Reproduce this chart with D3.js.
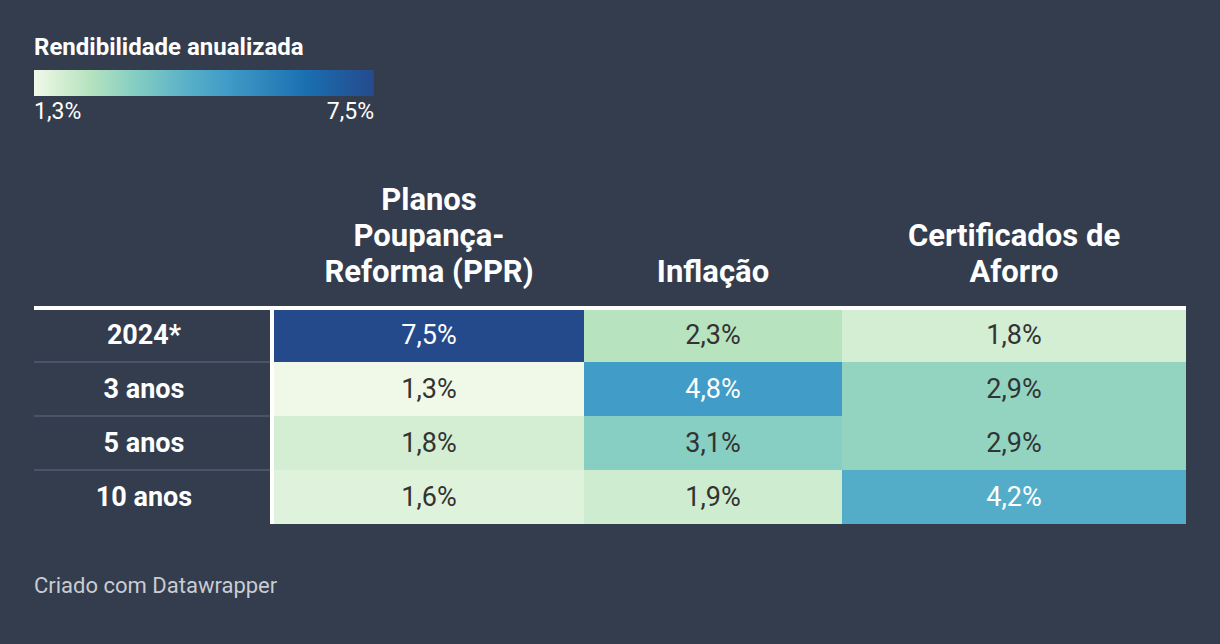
<!DOCTYPE html>
<html>
<head>
<meta charset="utf-8">
<script src="https://cdn.jsdelivr.net/npm/d3@7"></script>
<style>
  html, body { margin: 0; padding: 0; background: #333d4e; }
  svg { display: block; font-family: Roboto, "Noto Sans", sans-serif; }
</style>
</head>
<body>
<svg id="chart" width="1220" height="644"></svg>
<script>
// ---- data ----
const rowLabels = ["2024*", "3 anos", "5 anos", "10 anos"];
const columnHeaders = [
  ["Planos", "Poupança-", "Reforma (PPR)"],
  ["Inflação"],
  ["Certificados de", "Aforro"]
];
const pprValues = [7.5, 1.3, 1.8, 1.6];
const inflacaoValues = [2.3, 4.8, 3.1, 1.9];
const certificadosValues = [1.8, 2.9, 2.9, 4.2];
const legendTitle = "Rendibilidade anualizada";
const legendMin = 1.3;
const legendMax = 7.5;
const footerText = "Criado com Datawrapper";
const colorStops = [1.3, 2.3, 3.1, 4.2, 4.8, 6.3, 7.5];
const colorRange = ["#f0f9e8", "#b7e3bf", "#87cfc2", "#54adc8", "#419cc7", "#1a6eb0", "#254a8c"];

// ---- layout ----
const W = 1220, H = 644;
const bg = "#333d4e";
const colEdges = [274, 584, 842, 1186];
const labelCol = [34, 270];
const labelCenter = 144;
const tableTop = 310, tableBottom = 524;

const svg = d3.select("#chart");
svg.append("rect").attr("width", W).attr("height", H).attr("fill", bg);

const color = d3.scaleLinear().domain(colorStops).range(colorRange).interpolate(d3.interpolateRgb);
const locale = d3.formatLocale({decimal: ",", thousands: ".", grouping: [3], currency: ["", "€"]});
const fmt = v => locale.format(".1f")(v) + "%";

// Legend
svg.append("text").attr("x", 34).attr("y", 55)
  .attr("fill", "#ffffff").attr("font-weight", 700).attr("font-size", 24)
  .text(legendTitle);
const defs = svg.append("defs");
const grad = defs.append("linearGradient").attr("id", "lg").attr("x1", "0%").attr("x2", "100%");
const legScale = d3.scaleLinear().domain([legendMin, legendMax]).range([34, 374]);
colorStops.forEach(s => {
  grad.append("stop").attr("offset", ((s - legendMin) / (legendMax - legendMin) * 100) + "%").attr("stop-color", color(s));
});
svg.append("rect").attr("x", legScale(legendMin)).attr("y", 70)
  .attr("width", legScale(legendMax) - legScale(legendMin)).attr("height", 26)
  .attr("fill", "url(#lg)");
svg.append("text").attr("x", legScale(legendMin)).attr("y", 119)
  .attr("fill", "#ffffff").attr("font-size", 23).text(fmt(legendMin));
svg.append("text").attr("x", legScale(legendMax)).attr("y", 119).attr("text-anchor", "end")
  .attr("fill", "#ffffff").attr("font-size", 23).text(fmt(legendMax));

// Table
const y = d3.scaleBand().domain(rowLabels).range([tableTop - 2, tableBottom]);
const columns = [pprValues, inflacaoValues, certificadosValues];

// header
columnHeaders.forEach((lines, ci) => {
  const cx = (colEdges[ci] + colEdges[ci + 1]) / 2;
  const t = svg.append("text").attr("text-anchor", "middle")
    .attr("fill", "#ffffff").attr("font-weight", 700).attr("font-size", 31);
  lines.forEach((ln, li) => {
    t.append("tspan").attr("x", cx).attr("y", 282 - (lines.length - 1 - li) * 36).text(ln);
  });
});

// cells
columns.forEach((vals, ci) => {
  const g = svg.append("g");
  vals.forEach((v, ri) => {
    const r = rowLabels[ri];
    g.append("rect").attr("x", colEdges[ci]).attr("y", y(r))
      .attr("width", colEdges[ci + 1] - colEdges[ci]).attr("height", y.bandwidth())
      .attr("fill", color(v));
    g.append("text").attr("x", (colEdges[ci] + colEdges[ci + 1]) / 2)
      .attr("y", y(r) + y.bandwidth() / 2 + 9)
      .attr("text-anchor", "middle").attr("font-size", 27)
      .attr("fill", v >= 4 ? "#ffffff" : "#333333")
      .text(fmt(v));
  });
});

// row labels
rowLabels.forEach((r, ri) => {
  if (ri > 0) {
    svg.append("rect").attr("x", labelCol[0]).attr("y", y(r) - 1)
      .attr("width", labelCol[1] - labelCol[0]).attr("height", 2).attr("fill", "#4a5466");
  }
  svg.append("text").attr("x", labelCenter).attr("y", y(r) + y.bandwidth() / 2 + 9)
    .attr("text-anchor", "middle").attr("font-weight", 700).attr("font-size", 27)
    .attr("fill", "#ffffff").text(r);
});

// white borders
svg.append("rect").attr("x", 34).attr("y", tableTop - 4).attr("width", colEdges[3] - 34).attr("height", 4).attr("fill", "#ffffff");
svg.append("rect").attr("x", labelCol[1]).attr("y", tableTop - 2).attr("width", 4).attr("height", tableBottom - tableTop + 2).attr("fill", "#ffffff");

// footer
svg.append("text").attr("x", 34).attr("y", 593).attr("fill", "#c9ccd1").attr("font-size", 22).text(footerText);
</script>
</body>
</html>
